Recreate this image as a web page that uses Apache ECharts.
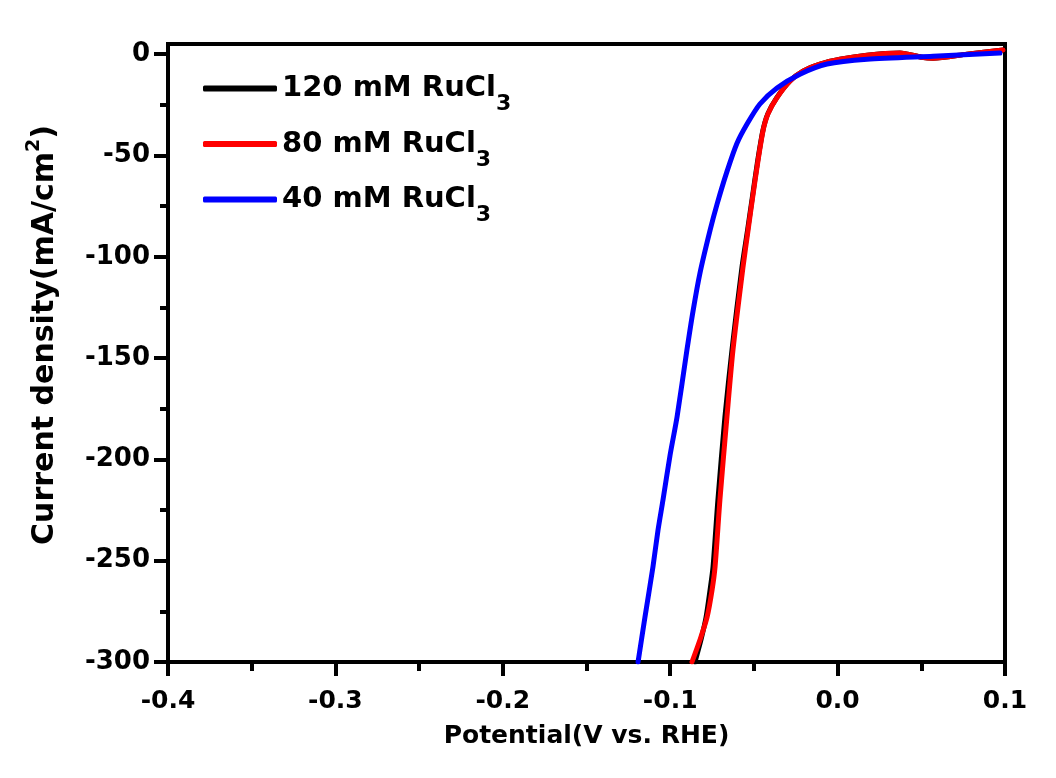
<!DOCTYPE html>
<html>
<head>
<meta charset="utf-8">
<script src="https://cdn.jsdelivr.net/npm/echarts@6/dist/echarts.min.js"></script>
<style>
html,body{margin:0;padding:0;background:#fff;}
#chart{width:1056px;height:778px;}
</style>
</head>
<body>
<div id="chart"></div>
<script>
// ---- data ----
const seriesNames = ['120 mM RuCl3', '80 mM RuCl3', '40 mM RuCl3'];
const seriesColors = ['#000000', '#ff0000', '#0000ff'];

const v120 = [-0.0852,-0.0816,-0.0786,-0.0762,-0.0744,-0.0715,-0.0673,-0.0631,-0.0571,-0.0538,-0.0510,-0.0480,-0.0447,-0.0417,-0.0365,-0.0285,-0.0207,-0.0105,0.0014,0.0176,0.0373,0.0500,0.0570,0.0773,0.0988];
const j120 = [-300,-289,-278,-264.5,-253,-220,-179,-146,-105,-87,-71,-54,-38,-29.5,-21.7,-13.3,-8.4,-4.9,-2.5,-0.5,0.5,-1.5,-2,0,2];

const v80 = [-0.0870,-0.0822,-0.0780,-0.0750,-0.0732,-0.0703,-0.0661,-0.0625,-0.0565,-0.0535,-0.0508,-0.0478,-0.0446,-0.0416,-0.0364,-0.0284,-0.0207,-0.0105,0.0014,0.0176,0.0373,0.0500,0.0570,0.0773,0.0988];
const j80 = [-300,-289,-278,-264.5,-253,-220,-179,-146,-105,-87,-71,-54,-38,-29.5,-21.7,-13.3,-8.4,-4.9,-2.5,-0.5,0.5,-1.5,-2,0,2];

const v40 = [-0.1192,-0.1151,-0.1103,-0.1073,-0.1043,-0.1001,-0.0959,-0.0900,-0.0864,-0.0822,-0.0762,-0.0720,-0.0661,-0.0601,-0.0541,-0.0464,-0.0362,-0.0225,-0.0063,0.0176,0.0570,0.0970];
const j40 = [-300,-278,-253,-235,-220,-198,-179,-146,-127,-108,-87,-74,-58,-44,-34.5,-24.6,-16.7,-9.9,-4.9,-2.5,-1,0.5];

const yMajorTicks = [-300,-250,-200,-150,-100,-50,0];
const yMinorTicks = [-275,-225,-175,-125,-75,-25];

const xTitle = 'Potential(V vs. RHE)';
const yTitleMain = 'Current density(mA/cm';
const yTitleSup = '2';

// ---- chart ----
const zip = (a, b) => a.map((v, i) => [v, b[i]]);
const seriesData = [zip(v120, j120), zip(v80, j80), zip(v40, j40)];

const FONT = 'DejaVu Sans';
const chart = echarts.init(document.getElementById('chart'), null, {renderer: 'canvas'});

const legendTops = [74, 129.5, 185];
const legends = seriesNames.map((n, i) => ({
  left: 203, top: legendTops[i], orient: 'vertical', padding: 0,
  itemWidth: 74, itemHeight: 6,
  icon: 'roundRect',
  data: [{name: n, itemStyle: {color: seriesColors[i]}}],
  formatter: name => '{t|' + name.slice(0, -1) + '}{s|' + name.slice(-1) + '}',
  textStyle: {
    rich: {
      t: {fontFamily: FONT, fontWeight: 'bold', fontSize: 29, color: '#000', lineHeight: 54, verticalAlign: 'middle'},
      s: {fontFamily: FONT, fontWeight: 'bold', fontSize: 22, color: '#000', verticalAlign: 'bottom'}
    }
  }
}));

const option = {
  backgroundColor: '#ffffff',
  animation: false,
  grid: {
    left: 168, right: 51, top: 44, bottom: 116,
    show: true, borderColor: '#000', borderWidth: 4, backgroundColor: 'transparent'
  },
  legend: legends,
  xAxis: {
    type: 'value', min: -0.4, max: 0.1, interval: 0.1,
    name: xTitle, nameLocation: 'middle', nameGap: 62,
    nameTextStyle: {fontFamily: FONT, fontWeight: 'bold', fontSize: 25, color: '#000'},
    axisLine: {show: true, onZero: false, lineStyle: {color: '#000', width: 4}},
    axisTick: {show: true, inside: false, length: 14, lineStyle: {color: '#000', width: 4}},
    minorTick: {show: true, splitNumber: 2, length: 9, lineStyle: {color: '#000', width: 4}},
    axisLabel: {
      margin: 27, fontFamily: FONT, fontWeight: 'bold', fontSize: 25, color: '#000',
      formatter: v => v.toFixed(1)
    },
    splitLine: {show: false}
  },
  yAxis: [{
    type: 'value', min: -300, max: 5,
    name: '{a|' + yTitleMain + '}{b|' + yTitleSup + '}{a|)}',
    nameLocation: 'middle', nameGap: 103, nameRotate: 90,
    nameTextStyle: {
      padding: [0, 0, 0, 36],
      rich: {
        a: {fontFamily: FONT, fontWeight: 'bold', fontSize: 30, color: '#000', lineHeight: 40, verticalAlign: 'middle'},
        b: {fontFamily: FONT, fontWeight: 'bold', fontSize: 19, color: '#000', lineHeight: 19, verticalAlign: 'top'}
      }
    },
    axisLine: {show: true, onZero: false, lineStyle: {color: '#000', width: 4}},
    axisTick: {show: true, inside: false, length: 14, customValues: yMajorTicks, lineStyle: {color: '#000', width: 4}},
    axisLabel: {
      margin: 18, customValues: yMajorTicks,
      fontFamily: FONT, fontWeight: 'bold', fontSize: 26, color: '#000'
    },
    splitLine: {show: false}
  }, {
    type: 'value', min: -300, max: 5, position: 'left',
    axisLine: {show: false, onZero: false},
    axisTick: {show: true, inside: false, length: 8, customValues: yMinorTicks, lineStyle: {color: '#000', width: 4}},
    axisLabel: {show: false},
    splitLine: {show: false}
  }],
  series: seriesNames.map((n, i) => ({
    name: n, type: 'line', data: seriesData[i],
    yAxisIndex: 0,
    showSymbol: false, symbol: 'none', smooth: 0.25,
    lineStyle: {color: seriesColors[i], width: 5, cap: 'round', join: 'round'},
    itemStyle: {color: seriesColors[i]},
    z: 2 + i
  }))
};
chart.setOption(option);
</script>
</body>
</html>
